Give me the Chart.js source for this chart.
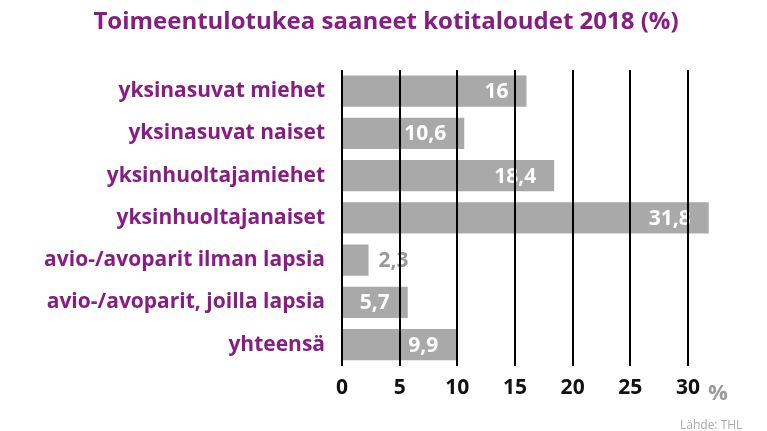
<!DOCTYPE html>
<html>
<head>
<meta charset="utf-8">
<script src="https://cdn.jsdelivr.net/npm/chart.js@4"></script>
<style>
  body { margin: 0; background: #fff; }
  #wrap { width: 767px; height: 431px; }
</style>
</head>
<body>
<div id="wrap"><canvas id="c" width="767" height="431"></canvas></div>
<script>
var categories = ['yksinasuvat miehet', 'yksinasuvat naiset', 'yksinhuoltajamiehet', 'yksinhuoltajanaiset',
  'avio-/avoparit ilman lapsia', 'avio-/avoparit, joilla lapsia', 'yhteensä'];
var values = [16, 10.6, 18.4, 31.8, 2.3, 5.7, 9.9];
var valueLabels = ['16', '10,6', '18,4', '31,8', '2,3', '5,7', '9,9'];
var tickValues = [0, 5, 10, 15, 20, 25, 30];

var purple = '#871d84';
var font = '"Open Sans", sans-serif';

// otsikko, arvot ja lähde piirretään itse
var extras = {
  id: 'extras',
  afterDatasetsDraw: function(chart) {
    var ctx = chart.ctx;
    var meta = chart.getDatasetMeta(0);
    ctx.save();
    ctx.font = 'bold 21px ' + font;
    ctx.textBaseline = 'middle';
    meta.data.forEach(function(bar, i) {
      if (values[i] < 4) {
        ctx.fillStyle = '#9a9a9a';
        ctx.textAlign = 'left';
        ctx.fillText(valueLabels[i], bar.x + 10, bar.y + 1);
      } else {
        ctx.fillStyle = '#ffffff';
        ctx.textAlign = 'right';
        ctx.fillText(valueLabels[i], bar.x - 18, bar.y + 1);
      }
    });
    ctx.restore();
  },
  afterDraw: function(chart) {
    var ctx = chart.ctx;
    ctx.save();
    ctx.fillStyle = purple;
    ctx.font = 'bold 24px ' + font;
    ctx.textAlign = 'center';
    ctx.textBaseline = 'middle';
    ctx.fillText('Toimeentulotukea saaneet kotitaloudet 2018 (%)', 386, 22);
    var x = chart.scales.x;
    ctx.fillStyle = '#9a9a9a';
    ctx.font = 'bold 22px ' + font;
    ctx.textAlign = 'left';
    ctx.fillText('%', x.getPixelForValue(30) + 20, 394);
    ctx.font = '12px ' + font;
    ctx.fillStyle = '#aaaaaa';
    ctx.fillText('Lähde: THL', 680, 426);
    ctx.restore();
  }
};

new Chart(document.getElementById('c'), {
  type: 'bar',
  data: {
    labels: categories,
    datasets: [{
      data: values,
      backgroundColor: '#a9a9a9',
      barPercentage: 0.74,
      categoryPercentage: 1
    }]
  },
  options: {
    indexAxis: 'y',
    responsive: false,
    animation: false,
    layout: { padding: { top: 70, right: 56, left: 0, bottom: 20 } },
    plugins: { legend: { display: false }, tooltip: { enabled: false } },
    scales: {
      x: {
        min: 0, max: 32,
        afterBuildTicks: function(axis) {
          axis.ticks = tickValues.map(function(v) { return { value: v }; });
        },
        grid: { color: '#000', lineWidth: 2, z: 1, drawTicks: false },
        border: { display: false },
        ticks: { color: '#111', font: { family: font, size: 21, weight: 'bold' }, padding: 10 }
      },
      y: {
        afterFit: function(axis) { axis.width = 342; },
        grid: { display: false },
        border: { display: false },
        ticks: { color: purple, font: { family: font, size: 21, weight: 'bold' }, padding: 9 }
      }
    }
  },
  plugins: [extras]
});
</script>
</body>
</html>
